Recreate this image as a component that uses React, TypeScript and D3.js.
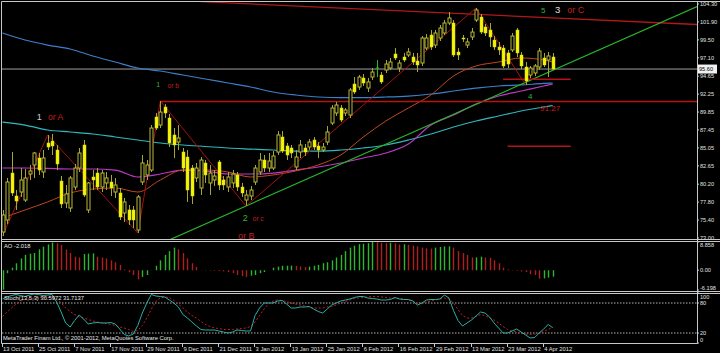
import React, { useEffect } from "react";
import * as d3 from "d3";

// daily bars, 13 Oct 2011 .. 5 Apr 2012
const opens = [
  73.8, 75.41, 81.69, 78.62, 79.15, 78.08, 81.56, 82.77, 83.7, 81.83,
  85.71, 85.97, 84.77, 80.62, 77.68, 77.01, 79.82, 82.36, 85.44, 76.75,
  81.16, 81.69, 79.82, 80.36, 80.49, 79.15, 79.02, 76.34, 76.75, 76.75,
  74.07, 80.49, 81.43, 82.09, 89.19, 88.11, 90.52, 89.05, 86.78, 85.84,
  84.5, 83.83, 82.36, 81.03, 79.69, 83.03, 80.36, 80.76, 83.17, 80.76,
  79.82, 80.36, 81.43, 79.82, 78.08, 78.62, 80.49, 81.83, 83.43, 82.36,
  82.36, 84.5, 86.51, 85.31, 85.04, 82.5, 84.5, 85.04, 85.17, 86.11,
  85.31, 84.77, 85.84, 88.38, 89.72, 90.39, 89.72, 89.45, 93.6, 93.2,
  94.4, 93.06, 94.53, 95.74, 94.8, 95.47, 95.74, 97.61, 95.74, 97.21,
  97.48, 97.21, 96.68, 96.41, 98.41, 100.15, 98.81, 99.75, 100.42, 101.76,
  101.76, 97.88, 99.75, 98.81, 99.89, 102.16, 102.56, 101.22, 100.82, 99.48,
  98.55, 98.41, 97.75, 98.15, 100.82, 97.48, 95.87, 94.8, 95.07, 95.87,
  97.08, 96.81, 97.21,
];
const highs = [
  76.75, 81.03, 84.5, 79.42, 82.36, 82.23, 82.77, 84.5, 84.37, 84.77,
  86.78, 86.91, 85.44, 81.29, 80.09, 81.29, 82.9, 85.04, 86.11, 80.49,
  82.09, 82.36, 82.09, 81.83, 81.43, 81.03, 79.69, 78.35, 77.41, 77.28,
  78.75, 84.1, 83.43, 88.11, 89.72, 91.33, 90.92, 89.59, 87.71, 88.11,
  85.04, 84.77, 82.77, 83.03, 83.83, 83.43, 82.77, 82.09, 83.43, 81.29,
  81.83, 82.09, 81.83, 80.36, 79.42, 79.96, 82.77, 84.37, 84.1, 84.37,
  84.63, 87.31, 87.31, 85.71, 85.44, 84.77, 86.11, 85.57, 86.24, 86.51,
  85.84, 85.71, 87.98, 90.79, 91.19, 90.79, 90.39, 93.06, 94.53, 94.8,
  94.94, 94.4, 95.74, 96.81, 95.2, 96.81, 97.08, 98.41, 96.81, 97.75,
  98.41, 97.75, 97.75, 100.02, 100.29, 100.82, 100.82, 101.49, 102.16, 103.23,
  102.16, 98.41, 100.15, 99.75, 101.09, 103.77, 102.96, 101.62, 101.76, 100.02,
  99.22, 98.81, 98.15, 100.42, 101.09, 97.88, 96.54, 96.01, 96.27, 98.41,
  97.75, 97.88, 97.75,
];
const lows = [
  73.27, 74.87, 78.62, 76.75, 78.49, 77.82, 80.76, 81.03, 81.43, 81.03,
  84.77, 84.1, 82.09, 77.01, 77.01, 76.48, 79.42, 81.83, 78.49, 76.34,
  79.42, 79.42, 79.15, 79.42, 78.62, 78.35, 75.41, 75.14, 74.74, 74.34,
  73.67, 80.09, 80.76, 81.83, 87.45, 87.71, 89.05, 85.17, 83.7, 84.77,
  81.83, 77.82, 77.55, 80.49, 78.75, 80.36, 78.75, 79.96, 79.42, 79.42,
  79.15, 79.69, 79.29, 78.49, 77.28, 78.08, 80.09, 81.43, 81.83, 81.83,
  82.09, 84.1, 84.37, 83.43, 83.7, 82.09, 83.7, 83.97, 84.77, 84.77,
  83.7, 84.5, 85.44, 88.11, 89.32, 88.51, 89.32, 89.05, 92.26, 92.8,
  93.33, 92.53, 94.13, 94.53, 93.6, 95.07, 95.47, 96.81, 95.2, 96.54,
  97.21, 96.14, 95.2, 96.01, 98.15, 98.15, 98.41, 99.35, 100.15, 101.49,
  97.21, 96.81, 99.22, 98.41, 99.48, 101.89, 100.29, 100.02, 98.55, 98.15,
  97.48, 95.74, 95.74, 97.88, 97.21, 95.6, 93.47, 94.4, 94.67, 95.47,
  95.87, 94.53, 95.47,
];
const closes = [
  76.08, 80.49, 79.02, 77.95, 80.76, 81.03, 81.96, 84.37, 82.09, 83.7,
  85.17, 85.31, 82.9, 77.55, 78.89, 81.03, 82.36, 84.37, 78.75, 80.36,
  80.76, 79.82, 81.69, 81.03, 79.69, 80.09, 75.81, 77.82, 75.41, 75.41,
  78.49, 83.03, 82.77, 87.71, 87.71, 89.85, 89.72, 85.71, 85.44, 86.38,
  82.36, 79.42, 78.62, 82.36, 83.43, 81.43, 81.69, 81.29, 80.09, 80.09,
  81.16, 81.56, 79.82, 79.02, 78.75, 79.42, 82.36, 83.43, 82.36, 83.3,
  83.97, 86.78, 84.63, 84.1, 84.37, 83.83, 85.44, 84.5, 85.84, 85.17,
  84.77, 85.17, 87.18, 90.39, 90.79, 88.78, 90.12, 92.8, 92.53, 94.53,
  93.73, 93.87, 95.2, 95.74, 93.87, 96.27, 96.54, 97.08, 96.41, 96.81,
  97.88, 96.54, 96.14, 99.75, 99.75, 98.55, 100.42, 101.09, 101.76, 102.43,
  97.48, 97.48, 99.62, 99.22, 100.55, 103.5, 100.55, 100.42, 99.89, 98.55,
  98.15, 96.01, 96.27, 100.02, 97.75, 96.01, 94.0, 95.74, 96.01, 98.01,
  96.14, 97.35, 95.6,
];

const aoValues = [
  -6.1, -0.92, 0.8, 2.19, 3.68, 4.83, 5.18, 5.41, 6.56, 7.4,
  8.1, 8.7, 8.45, 7.9, 6.5, 5.4, 4.25, 4.0, 5.1, 5.2,
  5.3, 4.25, 4.0, 3.7, 3.1, 2.5, 1.7, 0.25, -0.6, -1.5,
  -2.9, -2.1, -1.5, 0.05, 1.4, 3.1, 4.8, 6.0, 7.1, 6.55,
  5.4, 3.7, 2.2, 1.0, 0.05, -0.1, -0.15, -0.2, -0.25, -0.35,
  -0.6, -0.9, -1.5, -1.85, -2.1, -1.7, -1.5, -0.9, -0.55, 0.02,
  0.8, 1.15, 1.4, 1.42, 1.45, 1.35, 1.15, 1.0, 1.15, 1.4,
  1.7, 2.2, 2.5, 3.1, 4.0, 4.8, 6.0, 7.1, 7.7, 8.2,
  8.3, 8.5, 8.858, 8.8, 8.6, 8.5, 8.6, 8.45, 8.1, 8.15,
  7.95, 7.7, 7.5, 7.1, 6.9, 6.8, 7.1, 7.3, 7.45, 7.5,
  7.1, 6.0, 5.4, 4.8, 4.0, 4.05, 4.25, 4.0, 3.9, 3.1,
  2.2, 0.8, 0.25, -0.1, -0.15, -0.35, -0.6, -1.2, -1.5, -2.65,
  -2.55, -2.3, -2.018,
];

const stochMain = [
  88, 92, 95, 97, 95, 93, 96, 98, 97, 95,
  96, 97, 82, 62, 40, 32, 45, 56, 48, 38,
  40, 41, 40, 40, 41, 38, 28, 17, 14, 18,
  35, 60, 80, 97, 94, 93, 92, 86, 80, 72,
  57, 50, 42, 34, 27, 26, 26, 26, 24, 22,
  20, 22, 26, 25, 24, 24, 55, 70, 80, 80,
  80, 84, 85, 78, 70, 70, 72, 72, 73, 68,
  63, 60, 68, 76, 80, 84, 86, 88, 91, 93,
  93, 90, 89, 88, 86, 86, 87, 91, 88, 87,
  87, 84, 76, 80, 86, 87, 87, 88, 96, 90,
  65, 45, 34, 40, 46, 54, 62, 60, 52, 40,
  30, 20, 20, 24, 28, 22, 16, 10, 11, 20,
  28, 37, 30.5972,
];
const stochSignal = [
  53, 62, 70, 78, 84, 87, 89, 90, 91, 91,
  91, 91, 88, 80, 70, 63, 57, 52, 50, 47,
  44, 42, 41, 39, 37, 35, 32, 30, 27, 23,
  25, 35, 50, 68, 83, 90, 92, 91, 85, 78,
  70, 62, 55, 50, 43, 37, 33, 30, 29, 27,
  27, 27, 28, 29, 30, 33, 42, 55, 68, 78,
  84, 86, 85, 83, 80, 78, 76, 74, 72, 70,
  70, 70, 72, 73, 76, 80, 83, 86, 89, 90,
  91, 92, 93, 93, 92, 91, 90, 90, 89, 88,
  86, 83, 80, 80, 82, 84, 86, 88, 90, 88,
  80, 67, 55, 50, 50, 53, 57, 55, 50, 46,
  40, 33, 27, 24, 22, 20, 18, 17, 18, 20,
  23, 27, 31.7137,
];

// moving averages, read every 5 bars
const maBars = [0, 5, 10, 15, 20, 25, 30, 35, 40, 45, 50, 55, 60, 65, 70, 75, 80, 85, 90, 95, 100, 105, 110, 115, 120, 122];
const maBlue = [100.42, 99.48, 98.81, 98.28, 97.35, 96.54, 95.74, 95.34, 94.8, 94.27, 93.73, 93.2, 92.53, 92.13, 91.86, 91.79, 91.79, 91.86, 91.99, 92.26, 92.66, 93.06, 93.33, 93.47, 93.67, 93.73];
const maCyan = [88.51, 88.11, 87.45, 87.18, 86.91, 86.51, 86.11, 85.71, 85.44, 85.24, 85.04, 84.9, 84.77, 84.63, 84.63, 84.77, 85.04, 85.44, 86.11, 86.91, 87.85, 88.65, 89.32, 89.99, 90.52, 90.72];
const maMagenta = [82.36, 82.36, 82.3, 82.23, 82.23, 82.09, 81.16, 81.56, 82.09, 81.96, 81.56, 81.56, 81.69, 82.09, 82.5, 83.03, 83.7, 84.37, 85.57, 88.11, 89.45, 90.92, 91.99, 92.66, 93.33, 93.6];
const maOrange = [75.68, 76.75, 77.82, 79.02, 79.55, 79.69, 79.15, 80.76, 82.09, 82.09, 81.83, 81.16, 81.43, 81.96, 82.77, 84.1, 86.51, 88.65, 90.39, 92.13, 94.67, 96.01, 96.54, 97.08, 96.81, 96.54];

const zigzagBars = [0, 10, 30, 35, 54, 105, 116];
const zigzagPrices = [73.27, 86.78, 73.67, 91.33, 77.28, 103.77, 93.47];

const topTrend = [[44, 104.61], [154, 101.56]];
const greenTrend = [[37, 72.75], [154, 103.95]];
const levelLines = [
  { price: 91.27, from: 35, to: 154 },
  { price: 94.25, from: 111, to: 126 },
  { price: 85.27, from: 112, to: 126 },
];
const lastPrice = 95.6;

const annotations = [
  { text: "1", bar: 7.6, price: 89.19, color: "#d0d0d0", size: 9 },
  { text: "or A", bar: 10.1, price: 89.19, color: "#c81e1e", size: 8.5 },
  { text: "1", bar: 34.1, price: 93.47, color: "#2eb82e", size: 7 },
  { text: "or b", bar: 36.6, price: 93.4, color: "#c81e1e", size: 6.5 },
  { text: "2", bar: 53.3, price: 75.67, color: "#2eb82e", size: 9 },
  { text: "or c", bar: 55.5, price: 75.54, color: "#c81e1e", size: 6.5 },
  { text: "or B", bar: 52.2, price: 73.27, color: "#c81e1e", size: 9 },
  { text: "5", bar: 119.4, price: 103.5, color: "#2eb82e", size: 8 },
  { text: "3", bar: 122.5, price: 103.5, color: "#e0e0e0", size: 9.5 },
  { text: "or C", bar: 125.2, price: 103.5, color: "#c81e1e", size: 9 },
  { text: "4", bar: 116.5, price: 92.0, color: "#2eb82e", size: 8 },
  { text: "91.27", bar: 119.2, price: 90.39, color: "#c81e1e", size: 8 },
];

const priceTicks = [104.3, 101.9, 99.5, 97.1, 94.65, 92.25, 89.85, 87.45, 85.05, 82.65, 80.2, 77.8, 75.4, 73.0];
const aoTicks = [8.858, 0, -6.198];
const aoTickLabels = ["8.858", "0.00", "-6.198"];
const stochTicks = [100, 80, 20, 0];
const dateBars = [0, 8, 16, 24, 32, 40, 48, 56, 64, 72, 80, 88, 96, 104, 112, 120];
const dateLabels = [
  "13 Oct 2011", "25 Oct 2011", "7 Nov 2011", "17 Nov 2011", "29 Nov 2011", "9 Dec 2011",
  "21 Dec 2011", "3 Jan 2012", "13 Jan 2012", "25 Jan 2012", "6 Feb 2012", "16 Feb 2012",
  "29 Feb 2012", "13 Mar 2012", "23 Mar 2012", "4 Apr 2012",
];

const W = 720;
const H = 353;
const RIGHT = 697;
const FONT = "'Liberation Sans', Arial, sans-serif";
const FRAME = "#c8c8c8";
const WICK = "#a8a830";

const App: React.FC = () => {
  useEffect(() => {
    document.body.style.margin = "0";
    document.body.style.background = "#000";
  }, []);

  const x = d3.scaleLinear().domain([0, 122]).range([2.5, 552.7]);
  const y = d3.scaleLinear().domain([73, 104.3]).range([238, 4]);
  const yAo = d3.scaleLinear().domain([-6.198, 8.858]).range([290, 242]);
  const ySt = d3.scaleLinear().domain([0, 100]).range([343, 293]);

  const maLine = (vals: number[]) =>
    d3
      .line<number>()
      .x((_, i) => x(maBars[i]))
      .y((v) => y(v))
      .curve(d3.curveMonotoneX)(vals) || "";

  const stLine = d3
    .line<number>()
    .x((_, i) => x(i))
    .y((v) => ySt(v));

  const zigzag =
    d3
      .line<number>()
      .x((_, i) => x(zigzagBars[i]))
      .y((v) => y(v))(zigzagPrices) || "";

  const seg = (pts: number[][]) =>
    d3
      .line<number[]>()
      .x((p) => x(p[0]))
      .y((p) => y(p[1]))(pts) || "";

  return (
    <svg width={W} height={H} style={{ display: "block", background: "#000" }} fontFamily={FONT}>
      <defs>
        <clipPath id="mainClip">
          <rect x={2} y={2} width={RIGHT - 2} height={237} />
        </clipPath>
        <clipPath id="stClip">
          <rect x={2} y={294} width={RIGHT - 2} height={49} />
        </clipPath>
      </defs>
      <rect width={W} height={H} fill="#000" />

      {/* main price panel */}
      <g clipPath="url(#mainClip)">
        <line x1={2} x2={RIGHT} y1={y(lastPrice)} y2={y(lastPrice)} stroke="#a0a0a0" strokeWidth={1} />
        <path d={maLine(maBlue)} fill="none" stroke="#3d7fc8" strokeWidth={1.2} />
        <path d={maLine(maCyan)} fill="none" stroke="#30b8c0" strokeWidth={1.2} />
        <path d={maLine(maMagenta)} fill="none" stroke="#c038c8" strokeWidth={1.2} />
        <path d={maLine(maOrange)} fill="none" stroke="#c0481c" strokeWidth={1} />
        <path d={seg(topTrend)} fill="none" stroke="#b01818" strokeWidth={1.3} />
        <path d={seg(greenTrend)} fill="none" stroke="#28b428" strokeWidth={1.2} />
        {levelLines.map((l, i) => (
          <line key={i} x1={x(l.from)} x2={x(l.to)} y1={y(l.price)} y2={y(l.price)} stroke="#b41414" strokeWidth={1.5} />
        ))}
        <path d={zigzag} fill="none" stroke="#a81010" strokeWidth={1} />

        {opens.map((o, i) => {
          const c = closes[i];
          const cx = Math.round(x(i)) + 0.5;
          const top = y(Math.max(o, c));
          const bot = y(Math.min(o, c));
          if (o === c) {
            return (
              <g key={i} stroke="#22c022">
                <line x1={cx} x2={cx} y1={y(highs[i])} y2={y(lows[i])} />
                <line x1={cx - 1.5} x2={cx + 1.5} y1={top} y2={top} />
              </g>
            );
          }
          const bull = c > o;
          return (
            <g key={i}>
              <line x1={cx} x2={cx} y1={y(highs[i])} y2={y(lows[i])} stroke={WICK} strokeWidth={1} />
              <rect
                x={cx - 1.5}
                y={top}
                width={3}
                height={Math.max(1, bot - top)}
                fill={bull ? "#000" : "#f5f500"}
                stroke={bull ? "#b8b838" : "#d8d820"}
                strokeWidth={bull ? 1 : 0.5}
              />
            </g>
          );
        })}

        {annotations.map((a, i) => (
          <text key={i} x={x(a.bar)} y={y(a.price)} dy="0.35em" fill={a.color} fontSize={a.size}>
            {a.text}
          </text>
        ))}
      </g>

      {/* price axis */}
      {priceTicks.map((p, i) => (
        <g key={i}>
          <line x1={RIGHT} x2={RIGHT + 2} y1={y(p)} y2={y(p)} stroke={FRAME} />
          <text x={RIGHT + 3} y={y(p)} dy="0.35em" fill="#e0e0e0" fontSize={5.6}>
            {p.toFixed(2)}
          </text>
        </g>
      ))}
      <rect x={RIGHT} y={y(lastPrice) - 4.5} width={20} height={9} fill="#f0f0f0" />
      <text x={RIGHT + 2} y={y(lastPrice)} dy="0.35em" fill="#000" fontSize={5.6}>
        {lastPrice.toFixed(2)}
      </text>

      {/* AO panel */}
      {aoValues.map((v, i) => {
        const up = i === 0 || v > aoValues[i - 1];
        const cx = Math.round(x(i)) + 0.5;
        return (
          <line
            key={i}
            x1={cx}
            x2={cx}
            y1={yAo(0)}
            y2={yAo(v)}
            stroke={up ? "#2cb82c" : "#b01e1e"}
            strokeWidth={1.4}
          />
        );
      })}
      <text x={4} y={246} dy="0.35em" fill="#e8e8e8" fontSize={5.8}>
        AO -2.018
      </text>
      {aoTicks.map((v, i) => (
        <g key={i}>
          <line x1={RIGHT} x2={RIGHT + 2} y1={yAo(v)} y2={yAo(v)} stroke={FRAME} />
          <text
            x={RIGHT + 3}
            y={i === 0 ? 245 : i === 2 ? 288 : yAo(v)}
            dy="0.35em"
            fill="#e0e0e0"
            fontSize={5.6}
          >
            {aoTickLabels[i]}
          </text>
        </g>
      ))}

      {/* Stochastic panel */}
      {[80, 20].map((v) => (
        <line key={v} x1={2} x2={RIGHT} y1={ySt(v)} y2={ySt(v)} stroke="#b0b0b0" strokeDasharray="1.5,1.5" />
      ))}
      <g clipPath="url(#stClip)">
        <path d={stLine(stochSignal) || ""} fill="none" stroke="#c02020" strokeWidth={1} strokeDasharray="2,2" />
        <path d={stLine(stochMain) || ""} fill="none" stroke="#28b0a8" strokeWidth={1} />
      </g>
      <text x={4} y={298} dy="0.35em" fill="#e8e8e8" fontSize={5.8}>
        Stoch(13,5,3) 30.5972 31.7137
      </text>
      <text x={3} y={338} dy="0.35em" fill="#e8e8e8" fontSize={5.8}>
        MetaTrader Finam Ltd., © 2001-2012, MetaQuotes Software Corp.
      </text>
      {stochTicks.map((v) => (
        <g key={v}>
          <line x1={RIGHT} x2={RIGHT + 2} y1={ySt(v)} y2={ySt(v)} stroke={FRAME} />
          <text
            x={RIGHT + 3}
            y={v === 100 ? 297 : v === 0 ? 340 : ySt(v)}
            dy="0.35em"
            fill="#e0e0e0"
            fontSize={5.6}
          >
            {v}
          </text>
        </g>
      ))}

      {/* frames */}
      <g stroke={FRAME} strokeWidth={1} fill="none">
        <line x1={1.5} x2={W} y1={1.5} y2={1.5} />
        <line x1={1.5} x2={1.5} y1={1.5} y2={343.5} />
        <line x1={RIGHT + 0.5} x2={RIGHT + 0.5} y1={1.5} y2={343.5} />
        <line x1={1.5} x2={W} y1={239.5} y2={239.5} />
        <line x1={1.5} x2={W} y1={241.5} y2={241.5} />
        <line x1={1.5} x2={W} y1={291.5} y2={291.5} />
        <line x1={1.5} x2={W} y1={293.5} y2={293.5} />
        <line x1={1.5} x2={RIGHT + 0.5} y1={343.5} y2={343.5} />
      </g>

      {/* date axis */}
      {dateBars.map((b, i) => (
        <g key={i}>
          <line x1={Math.round(x(b)) - 0.5} x2={Math.round(x(b)) - 0.5} y1={344} y2={347} stroke={FRAME} />
          <text x={x(b) + 0.5} y={348.5} dy="0.35em" fill="#e0e0e0" fontSize={5.8}>
            {dateLabels[i]}
          </text>
        </g>
      ))}
    </svg>
  );
};

export default App;
